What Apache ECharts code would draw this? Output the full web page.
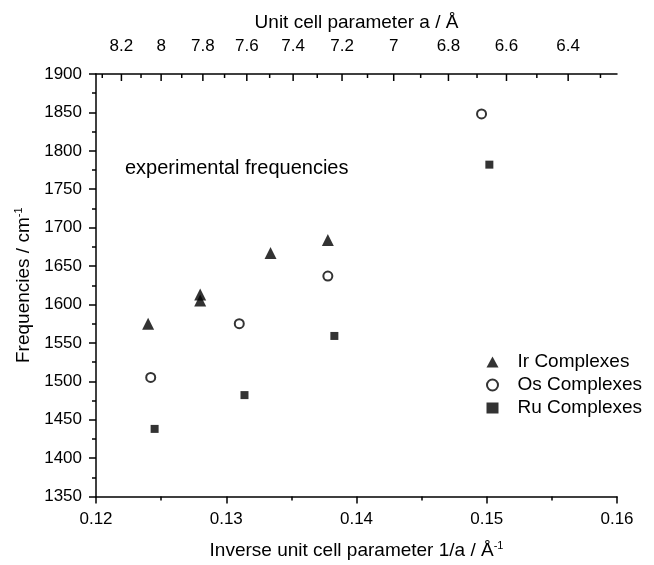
<!DOCTYPE html>
<html>
<head>
<meta charset="utf-8">
<script src="https://cdn.jsdelivr.net/npm/echarts@6/dist/echarts.min.js"></script>
<style>
  html, body { margin: 0; padding: 0; background: #fff; }
  #chart { width: 654px; height: 565px; }
</style>
</head>
<body>
<div id="chart"></div>
<script>
// experimental frequencies vs inverse unit cell parameter
const irX = [0.1240, 0.1280, 0.1280, 0.1334, 0.1378];
const irY = [1575, 1613, 1605, 1667, 1684];
const osX = [0.1242, 0.1310, 0.1378, 0.1496];
const osY = [1505, 1575, 1637, 1848];
const ruX = [0.1245, 0.1314, 0.1383, 0.1502];
const ruY = [1438, 1482, 1559, 1782];

// top axis: unit cell parameter a (reciprocal of the bottom axis)
const topMajor = [8.2, 8, 7.8, 7.6, 7.4, 7.2, 7, 6.8, 6.6, 6.4];
const topMinor = [8.3, 8.1, 7.9, 7.7, 7.5, 7.3, 7.1, 6.9, 6.7, 6.5, 6.3];

const font = 'Liberation Sans, Arial, sans-serif';
const pair = (xs, ys) => xs.map((x, i) => [x, ys[i]]);

const topTicks = topMajor.map(a => [1 / a, 1900, a, 1])
    .concat(topMinor.map(a => [1 / a, 1900, a, 0]));

const myEcharts = echarts.init(document.getElementById('chart'), null, { renderer: 'canvas' });

const axisLine = { show: true, lineStyle: { color: '#000', width: 1.5 } };

const option = {
    animation: false,
    backgroundColor: '#fff',
    textStyle: { fontFamily: font, color: '#000' },
    grid: { left: 96, right: 37, top: 74, bottom: 68 },
    xAxis: [{
        type: 'value',
        position: 'bottom',
        min: 0.12,
        max: 0.16,
        interval: 0.01,
        name: 'Inverse unit cell parameter 1/a / Å{sup|-1}',
        nameLocation: 'middle',
        nameGap: 44,
        nameTextStyle: {
            fontSize: 19, color: '#000', fontFamily: font,
            rich: { sup: { fontSize: 11, verticalAlign: 'top', lineHeight: 20, fontFamily: font, color: '#000' } }
        },
        axisLine: axisLine,
        axisTick: { show: true, inside: false, length: 7, lineStyle: { color: '#000', width: 1.5 } },
        minorTick: { show: true, splitNumber: 2, length: 4, lineStyle: { color: '#000', width: 1.5 } },
        axisLabel: { fontSize: 17, color: '#000', margin: 14, fontFamily: font },
        splitLine: { show: false },
        minorSplitLine: { show: false }
    }, {
        type: 'value',
        position: 'top',
        min: 0.12,
        max: 0.16,
        name: 'Unit cell parameter a / Å',
        nameLocation: 'middle',
        nameGap: 42,
        nameTextStyle: { fontSize: 19, color: '#000', fontFamily: font },
        axisLine: axisLine,
        axisTick: { show: false },
        axisLabel: { show: false },
        splitLine: { show: false }
    }],
    yAxis: {
        type: 'value',
        min: 1350,
        max: 1900,
        interval: 50,
        name: 'Frequencies / cm{sup|-1}',
        nameLocation: 'middle',
        nameGap: 58,
        nameTextStyle: {
            fontSize: 19, color: '#000', fontFamily: font,
            rich: { sup: { fontSize: 11, verticalAlign: 'top', lineHeight: 20, fontFamily: font, color: '#000' } }
        },
        axisLine: axisLine,
        axisTick: { show: true, inside: false, length: 7, lineStyle: { color: '#000', width: 1.5 } },
        minorTick: { show: true, splitNumber: 2, length: 4, lineStyle: { color: '#000', width: 1.5 } },
        axisLabel: { fontSize: 17, color: '#000', margin: 14, fontFamily: font, formatter: v => String(v) },
        splitLine: { show: false },
        minorSplitLine: { show: false }
    },
    legend: {
        data: ['Ir Complexes', 'Os Complexes', 'Ru Complexes'],
        orient: 'vertical',
        left: 481,
        top: 347,
        itemWidth: 12,
        itemHeight: 11,
        itemGap: 3,
        formatter: name => '{t|' + name + '}',
        textStyle: {
            fontSize: 19, color: '#000', fontFamily: font, lineHeight: 20,
            rich: { t: { fontSize: 19, color: '#000', fontFamily: font, lineHeight: 20, padding: [0, 0, 0, 14] } }
        }
    },
    graphic: [{
        type: 'text',
        left: 125,
        top: 158,
        style: { text: 'experimental frequencies', font: '20px ' + font, fill: '#000' }
    }],
    series: [{
        name: 'Ir Complexes',
        type: 'scatter',
        symbol: 'triangle',
        symbolSize: 12,
        itemStyle: { color: '#000' },
        data: pair(irX, irY)
    }, {
        name: 'Os Complexes',
        type: 'scatter',
        symbol: 'emptyCircle',
        symbolSize: 9,
        itemStyle: { color: '#000', borderColor: '#000', borderWidth: 1 },
        data: pair(osX, osY)
    }, {
        name: 'Ru Complexes',
        type: 'scatter',
        symbol: 'rect',
        symbolSize: 8,
        itemStyle: { color: '#000' },
        data: pair(ruX, ruY)
    }, {
        // ticks and labels of the reciprocal top axis
        type: 'custom',
        xAxisIndex: 1,
        yAxisIndex: 0,
        silent: true,
        clip: false,
        z: 10,
        data: topTicks,
        renderItem: function (params, api) {
            const p = api.coord([api.value(0), api.value(1)]);
            const major = api.value(3) === 1;
            const children = [{
                type: 'line',
                shape: { x1: p[0], y1: p[1], x2: p[0], y2: p[1] + (major ? 7 : 4) },
                style: { stroke: '#000', lineWidth: 1.5 }
            }];
            if (major) {
                children.push({
                    type: 'text',
                    x: p[0],
                    y: p[1] - 28,
                    style: {
                        text: String(api.value(2)),
                        fill: '#000',
                        font: '17px ' + font,
                        align: 'center',
                        verticalAlign: 'middle'
                    }
                });
            }
            return { type: 'group', children: children };
        }
    }]
};

myEcharts.setOption(option);
</script>
</body>
</html>
